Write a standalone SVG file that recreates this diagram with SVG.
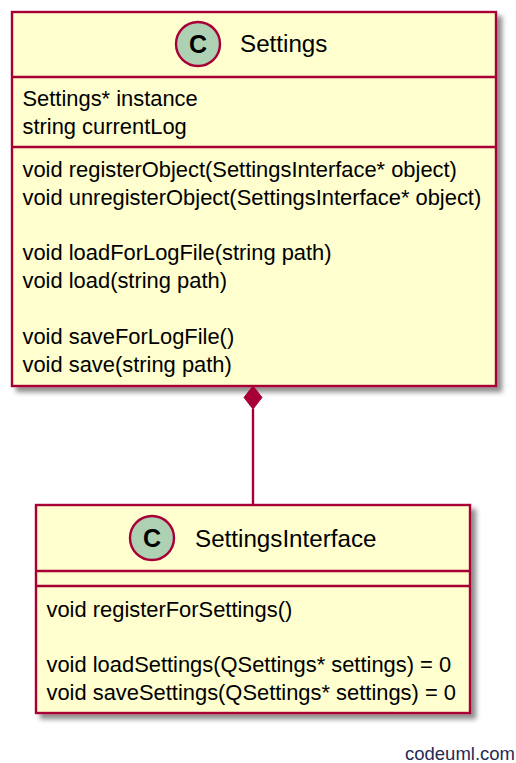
<svg xmlns="http://www.w3.org/2000/svg" width="516" height="763" viewBox="0 0 516 763">
<style>
.box{fill:#FEFECE;stroke:#A80036;stroke-width:2.4}
.sep{stroke:#A80036;stroke-width:2.4}
.circ{fill:#ADD1B2;stroke:#A80036;stroke-width:2.4}
.cl{font-family:"Liberation Sans",Arial,sans-serif;font-size:25px;font-weight:bold;fill:#000;text-anchor:middle}
.title{font-family:"Liberation Sans",Arial,sans-serif;font-size:24.2px;fill:#000}
.mem{font-family:"Liberation Sans",Arial,sans-serif;font-size:21.9px;fill:#000}
.conn{stroke:#A80036;stroke-width:2.4;fill:none}
</style>
<defs>
<filter id="sh" x="-10%" y="-10%" width="130%" height="130%">
<feGaussianBlur in="SourceAlpha" stdDeviation="2.5"/>
<feOffset dx="5" dy="5" result="b"/>
<feComponentTransfer><feFuncA type="linear" slope="0.45"/></feComponentTransfer>
<feMerge><feMergeNode/><feMergeNode in="SourceGraphic"/></feMerge>
</filter>
</defs>
<g id="Settings">
<rect class="box" x="12" y="12" width="484" height="374" filter="url(#sh)"/>
<circle class="circ" cx="198" cy="44" r="22"/>
<text class="cl" x="198" y="53">C</text>
<text class="title" x="240" y="52">Settings</text>
<line class="sep" x1="12" y1="77" x2="496" y2="77"/>
<text class="mem" x="22.5" y="106">Settings* instance</text>
<text class="mem" x="22.5" y="133.5">string currentLog</text>
<line class="sep" x1="12" y1="147" x2="496" y2="147"/>
<text class="mem" x="22.5" y="177">void registerObject(SettingsInterface* object)</text>
<text class="mem" x="22.5" y="204.5">void unregisterObject(SettingsInterface* object)</text>
<text class="mem" x="22.5" y="260">void loadForLogFile(string path)</text>
<text class="mem" x="22.5" y="287.5">void load(string path)</text>
<text class="mem" x="22.5" y="344">void saveForLogFile()</text>
<text class="mem" x="22.5" y="371.5">void save(string path)</text>
</g>
<g id="SettingsInterface">
<rect class="box" x="36" y="505" width="434" height="208" filter="url(#sh)"/>
<circle class="circ" cx="152" cy="538" r="22"/>
<text class="cl" x="152" y="547">C</text>
<text class="title" x="195" y="547">SettingsInterface</text>
<line class="sep" x1="36" y1="571" x2="470" y2="571"/>
<line class="sep" x1="36" y1="586" x2="470" y2="586"/>
<text class="mem" x="46.5" y="617">void registerForSettings()</text>
<text class="mem" x="46.5" y="672">void loadSettings(QSettings* settings) = 0</text>
<text class="mem" x="46.5" y="699.5">void saveSettings(QSettings* settings) = 0</text>
</g>
<g id="connectors">
<line class="conn" x1="253" y1="409" x2="253" y2="505"/>
<polygon points="253,386 262,397.5 253,409 244,397.5" fill="#A80036" stroke="#A80036" stroke-width="1"/>
</g>
<text x="405" y="760" font-family="'Liberation Sans',Arial,sans-serif" font-size="18.5" fill="#1F2A55">codeuml.com</text>
</svg>
